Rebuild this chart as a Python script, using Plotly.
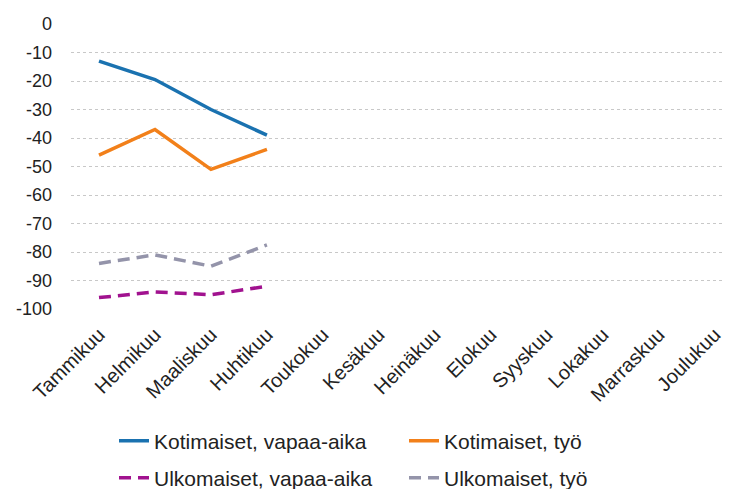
import plotly.graph_objects as go

months = ["Tammikuu", "Helmikuu", "Maaliskuu", "Huhtikuu", "Toukokuu", "Kesäkuu",
          "Heinäkuu", "Elokuu", "Syyskuu", "Lokakuu", "Marraskuu", "Joulukuu"]
kot_vapaa = [-13, -19.5, -30, -39]
kot_tyo = [-46, -37, -51, -44]
ulk_vapaa = [-96, -94, -95, -92]
ulk_tyo = [-84, -81, -85, -77.5]
y_ticks = list(range(0, -101, -10))
y_tick_text = [str(v) for v in y_ticks]

series = [
    ("Kotimaiset, vapaa-aika", kot_vapaa, "#1a72b0", "solid", "legend"),
    ("Kotimaiset, työ", kot_tyo, "#f2801a", "solid", "legend"),
    ("Ulkomaiset, vapaa-aika", ulk_vapaa, "#a1128f", "12px,7px", "legend2"),
    ("Ulkomaiset, työ", ulk_tyo, "#9494aa", "12px,7px", "legend2"),
]

fig = go.Figure()
for name, vals, color, dash, leg in series:
    fig.add_trace(go.Scatter(
        x=months[:len(vals)], y=vals, mode="lines", name=name, legend=leg,
        line=dict(color=color, width=3.5, dash=dash)))

W, H = 723, 481
font = "Arial, Liberation Sans, sans-serif"
legfont = dict(family=font, size=21, color="#222222")
common_leg = dict(orientation="h", xref="container", yref="container",
                  x=106 / W, xanchor="left", yanchor="middle",
                  entrywidth=245, entrywidthmode="pixels",
                  font=legfont, bgcolor="rgba(0,0,0,0)")
fig.update_layout(
    width=W, height=H,
    margin=dict(l=63, r=0, t=16, b=180),
    paper_bgcolor="white", plot_bgcolor="white",
    font=dict(family=font, size=17, color="#222222"),
    showlegend=True,
    legend=dict(common_leg, y=48 / H),
    legend2=dict(common_leg, y=11 / H),
    xaxis=dict(categoryorder="array", categoryarray=months, type="category",
               range=[-0.5, 11.29], tickangle=-45, showgrid=False, showline=False,
               zeroline=False, ticks="", tickfont=dict(size=20), automargin=False,
               tickmode="array", tickvals=months, ticktext=months,
               ticklabelstandoff=9),
    yaxis=dict(range=[-100, 0], tickmode="array", tickvals=y_ticks, ticktext=y_tick_text,
               showgrid=True, gridcolor="#c8c8c8",
               griddash="dot", gridwidth=1, zeroline=False, showline=False, ticks="",
               tickfont=dict(size=18), ticklabelstandoff=18, automargin=False),
)
fig.write_html("out.html")
